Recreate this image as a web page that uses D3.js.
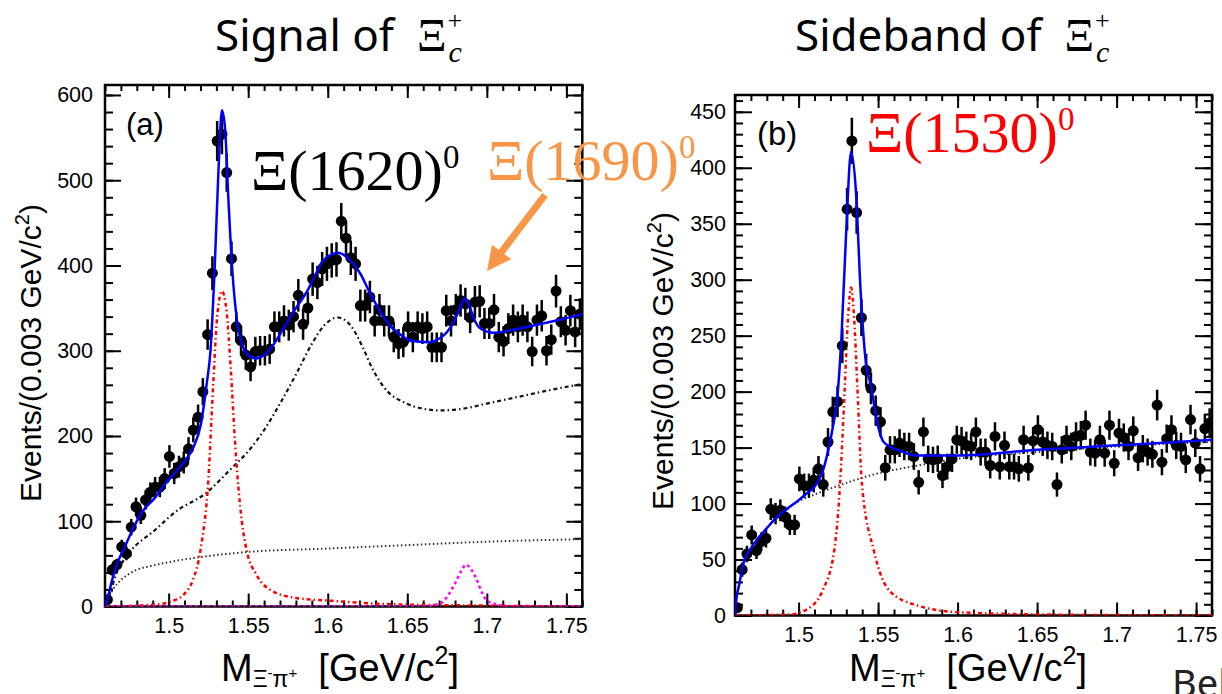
<!DOCTYPE html>
<html lang="en">
<head>
<meta charset="UTF-8">
<title>Xi- pi+ invariant mass: signal and sideband</title>
<script src="https://d3js.org/d3.v7.min.js"></script>
<style>
  body { margin: 0; background: #fff; }
  svg { display: block; }
  .tick text { font-family: "Liberation Sans", Arial, sans-serif; font-size: 21.5px; fill: #000; }
  .axis-title { font-family: "Liberation Sans", Arial, sans-serif; fill: #000; }
  .slide-title { font-family: "Noto Sans", sans-serif; font-size: 44px; fill: #000; }
  .state { font-family: "Liberation Serif", serif; font-size: 58px; }
</style>
</head>
<body>
<script>
// ---- data ----
var massRange = [1.46, 1.76];
var xTickLabels = [1.5, 1.55, 1.6, 1.65, 1.7, 1.75];
var yTickLabelsA = [0, 100, 200, 300, 400, 500, 600];
var yTickLabelsB = [0, 50, 100, 150, 200, 250, 300, 350, 400, 450];

// bin centres (GeV/c^2), 0.003 wide
var massBins = [1.4615, 1.4645, 1.4675, 1.4705, 1.4735, 1.4765, 1.4795, 1.4825, 1.4855, 1.4885,
  1.4915, 1.4945, 1.4975, 1.5005, 1.5035, 1.5065, 1.5095, 1.5125, 1.5155, 1.5185,
  1.5215, 1.5245, 1.5275, 1.5305, 1.5335, 1.5365, 1.5395, 1.5425, 1.5455, 1.5485,
  1.5515, 1.5545, 1.5575, 1.5605, 1.5635, 1.5665, 1.5695, 1.5725, 1.5755, 1.5785,
  1.5815, 1.5845, 1.5875, 1.5905, 1.5935, 1.5965, 1.5995, 1.6025, 1.6055, 1.6085,
  1.6115, 1.6145, 1.6175, 1.6205, 1.6235, 1.6265, 1.6295, 1.6325, 1.6355, 1.6385,
  1.6415, 1.6445, 1.6475, 1.6505, 1.6535, 1.6565, 1.6595, 1.6625, 1.6655, 1.6685,
  1.6715, 1.6745, 1.6775, 1.6805, 1.6835, 1.6865, 1.6895, 1.6925, 1.6955, 1.6985,
  1.7015, 1.7045, 1.7075, 1.7105, 1.7135, 1.7165, 1.7195, 1.7225, 1.7255, 1.7285,
  1.7315, 1.7345, 1.7375, 1.7405, 1.7435, 1.7465, 1.7495, 1.7525, 1.7555, 1.7585];

// (a) signal region
var eventsA = [8, 43, 49, 70, 62, 93, 117, 107, 125, 134,
  140, 140, 150, 176, 156, 164, 169, 185, 207, 222,
  252, 319, 391, 546, 554, 509, 408, 328, 312, 295,
  281, 299, 300, 300, 302, 328, 328, 335, 330, 340,
  365, 331, 350, 384, 380, 396, 402, 406, 407, 452,
  432, 409, 402, 353, 353, 363, 335, 348, 335, 335,
  316, 308, 310, 328, 316, 328, 326, 328, 304, 304,
  304, 347, 335, 348, 359, 355, 339, 357, 358, 332,
  332, 348, 316, 311, 326, 336, 328, 336, 328, 299,
  336, 341, 300, 313, 370, 334, 324, 347, 322, 343];

// (b) sideband region
var eventsB = [7, 41, 55, 72, 58, 66, 69, 95, 91, 94,
  88, 81, 81, 122, 116, 116, 121, 131, 117, 155,
  182, 191, 241, 363, 424, 360, 266, 219, 203, 183,
  173, 132, 148, 148, 154, 151, 151, 142, 119, 164,
  140, 139, 140, 125, 133, 140, 157, 156, 152, 151,
  164, 146, 146, 134, 160, 133, 152, 133, 133, 131,
  157, 132, 156, 166, 155, 152, 151, 117, 148, 157,
  151, 160, 161, 170, 146, 145, 157, 145, 170, 136,
  163, 159, 151, 165, 141, 149, 146, 144, 188, 137,
  158, 166, 152, 151, 139, 175, 154, 131, 167, 172];

// fit curves, [mass, events]
var fitTotalA = [[1.46, 0], [1.4615, 8], [1.463, 20], [1.4655, 38], [1.468, 52], [1.472, 68], [1.4773, 90],
  [1.483, 110], [1.4916, 128], [1.4975, 143], [1.5036, 156], [1.51, 170], [1.5156, 187], [1.5203, 214],
  [1.5239, 261], [1.5263, 300], [1.529, 400], [1.5315, 520], [1.5335, 582], [1.5355, 560], [1.5375, 480],
  [1.54, 395], [1.543, 335], [1.546, 308], [1.55, 295], [1.5548, 291], [1.56, 295], [1.565, 305],
  [1.5727, 328], [1.58, 350], [1.5871, 370], [1.5925, 390], [1.5967, 405], [1.6015, 412], [1.6063, 415],
  [1.612, 410], [1.616, 402], [1.6206, 390], [1.6254, 372], [1.6302, 355], [1.635, 340], [1.6398, 328],
  [1.645, 320], [1.6494, 314], [1.655, 311], [1.6637, 310], [1.67, 314], [1.675, 322], [1.68, 337],
  [1.6835, 352], [1.686, 361.5], [1.6885, 355], [1.692, 337], [1.696, 326], [1.7044, 321], [1.715, 324],
  [1.73, 330], [1.745, 336], [1.76, 343]];
var fitXi1620A = [[1.46, 0], [1.463, 15], [1.467, 38], [1.4749, 62], [1.4916, 90], [1.505, 112],
  [1.5227, 132], [1.54, 163], [1.55, 182], [1.56, 207], [1.57, 238], [1.58, 272], [1.59, 308],
  [1.597, 328], [1.6063, 339], [1.615, 328], [1.622, 304], [1.6278, 280], [1.635, 258], [1.6495, 238],
  [1.66, 232], [1.671, 230], [1.685, 232], [1.7, 238], [1.72, 246], [1.74, 254], [1.76, 261]];
var fitBkgA = [[1.46, 0], [1.4615, 8], [1.465, 20], [1.47, 31], [1.475, 38], [1.48, 43], [1.49, 48],
  [1.5, 52], [1.52, 58], [1.55, 64], [1.6, 68], [1.65, 72], [1.7, 76], [1.76, 79]];
var fitXi1530A = [[1.46, 0], [1.49, 2], [1.5, 5], [1.51, 15], [1.515, 30], [1.52, 66], [1.525, 150],
  [1.528, 260], [1.5305, 340], [1.5335, 370], [1.5365, 345], [1.539, 280], [1.542, 185], [1.546, 100],
  [1.549, 66], [1.555, 38], [1.5634, 20], [1.58, 10], [1.6, 7], [1.635, 3], [1.7, 1], [1.76, 0]];
var fitXi1690A = [[1.46, 0], [1.66, 0], [1.668, 2], [1.672, 5], [1.676, 14], [1.68, 27], [1.684, 42],
  [1.687, 49], [1.69, 44], [1.694, 30], [1.697, 16], [1.7, 7], [1.705, 3], [1.71, 1], [1.72, 0], [1.76, 0]];

var fitTotalB = [[1.46, 0], [1.4605, 10], [1.4627, 28], [1.4652, 46], [1.47, 60], [1.4751, 70], [1.48, 78],
  [1.485, 86], [1.4925, 95], [1.5, 103], [1.505, 109], [1.51, 115], [1.515, 128], [1.5187, 148],
  [1.522, 172], [1.524, 190], [1.527, 250], [1.53, 345], [1.533, 414], [1.536, 380], [1.539, 290],
  [1.542, 230], [1.5455, 205], [1.55, 169], [1.5535, 155], [1.5622, 148], [1.5746, 143], [1.6, 143],
  [1.65, 148], [1.7, 152], [1.7488, 156], [1.76, 157]];
var fitBkgB = [[1.46, 0], [1.4605, 10], [1.4627, 28], [1.4652, 46], [1.47, 60], [1.4751, 70], [1.48, 78],
  [1.485, 86], [1.4925, 95], [1.5, 102], [1.51, 108], [1.525, 116], [1.55, 127], [1.575, 134],
  [1.6, 140], [1.65, 146], [1.7, 151], [1.76, 155]];
var fitXi1530B = [[1.46, 0], [1.495, 1], [1.5075, 7.5], [1.515, 22], [1.5224, 58], [1.5261, 118],
  [1.529, 203], [1.531, 264], [1.533, 293], [1.535, 264], [1.537, 203], [1.5398, 118], [1.5473, 58],
  [1.5572, 22], [1.5746, 9], [1.6, 3], [1.65, 1], [1.76, 0]];

// ---- drawing ----
var W = 1222, H = 694;
var svg = d3.select("body").append("svg").attr("width", W).attr("height", H);

function drawPanel(p) {
  var x = d3.scaleLinear().domain(massRange).range([p.left, p.right]);
  var y = d3.scaleLinear().domain([0, p.yTop]).range([p.bottom, p.top]);
  var g = svg.append("g");

  svg.append("clipPath").attr("id", "clip-" + p.name)
    .append("rect")
    .attr("x", p.left).attr("y", p.top)
    .attr("width", p.right - p.left).attr("height", p.bottom - p.top);

  var minorX = x.ticks(30);
  var minorY = d3.range(0, p.yTop, p.yMinor);

  function styleAxis(sel) {
    sel.select(".domain").remove();
    sel.selectAll(".tick line").attr("stroke", "#000").attr("stroke-width", 2);
    sel.attr("font-family", null).attr("font-size", null);
  }

  // minor ticks on all four sides
  g.append("g").attr("transform", "translate(0," + p.bottom + ")")
    .call(d3.axisBottom(x).tickValues(minorX).tickSizeInner(-6).tickSizeOuter(0).tickFormat(""))
    .call(styleAxis);
  g.append("g").attr("transform", "translate(0," + p.top + ")")
    .call(d3.axisTop(x).tickValues(minorX).tickSizeInner(-6).tickSizeOuter(0).tickFormat(""))
    .call(styleAxis);
  g.append("g").attr("transform", "translate(" + p.left + ",0)")
    .call(d3.axisLeft(y).tickValues(minorY).tickSizeInner(-8).tickSizeOuter(0).tickFormat(""))
    .call(styleAxis);
  g.append("g").attr("transform", "translate(" + p.right + ",0)")
    .call(d3.axisRight(y).tickValues(minorY).tickSizeInner(-8).tickSizeOuter(0).tickFormat(""))
    .call(styleAxis);

  // major ticks
  g.append("g").attr("transform", "translate(0," + p.bottom + ")")
    .call(d3.axisBottom(x).tickValues(xTickLabels).tickSizeInner(-13).tickSizeOuter(0)
      .tickPadding(11).tickFormat(function (d) { return String(d); }))
    .call(styleAxis);
  g.append("g").attr("transform", "translate(0," + p.top + ")")
    .call(d3.axisTop(x).tickValues(xTickLabels).tickSizeInner(-13).tickSizeOuter(0).tickFormat(""))
    .call(styleAxis);
  g.append("g").attr("transform", "translate(" + p.left + ",0)")
    .call(d3.axisLeft(y).tickValues(p.yTicks).tickSizeInner(-p.yMajorLen).tickSizeOuter(0)
      .tickPadding(p.yPad).tickFormat(function (d) { return String(d); }))
    .call(styleAxis);
  g.append("g").attr("transform", "translate(" + p.right + ",0)")
    .call(d3.axisRight(y).tickValues(p.yTicks).tickSizeInner(-p.yMajorLen).tickSizeOuter(0).tickFormat(""))
    .call(styleAxis);

  // frame
  g.append("rect")
    .attr("x", p.left).attr("y", p.top)
    .attr("width", p.right - p.left).attr("height", p.bottom - p.top)
    .attr("fill", "none").attr("stroke", "#000").attr("stroke-width", 2.5);

  var line = d3.line()
    .x(function (d) { return x(d[0]); })
    .y(function (d) { return y(d[1]); })
    .curve(d3.curveMonotoneX);

  var plot = g.append("g").attr("clip-path", "url(#clip-" + p.name + ")");

  p.curves.forEach(function (c) {
    plot.append("path")
      .datum(c.data)
      .attr("d", line)
      .attr("fill", "none")
      .attr("stroke", c.color)
      .attr("stroke-width", c.width)
      .attr("stroke-dasharray", c.dash || null);
  });

  // data points with poisson errors
  var pts = massBins.map(function (m, i) { return [m, p.events[i]]; });
  plot.selectAll(".err")
    .data(pts)
    .enter().append("line")
    .attr("class", "err")
    .attr("x1", function (d) { return x(d[0]); })
    .attr("x2", function (d) { return x(d[0]); })
    .attr("y1", function (d) { return y(d[1] - Math.sqrt(d[1])); })
    .attr("y2", function (d) { return y(d[1] + Math.sqrt(d[1])); })
    .attr("stroke", "#000").attr("stroke-width", 2.5);
  plot.selectAll(".pt")
    .data(pts)
    .enter().append("circle")
    .attr("class", "pt")
    .attr("cx", function (d) { return x(d[0]); })
    .attr("cy", function (d) { return y(d[1]); })
    .attr("r", 5.5)
    .attr("fill", "#000");

  // blue total fit drawn on top
  plot.append("path")
    .datum(p.total)
    .attr("d", line)
    .attr("fill", "none")
    .attr("stroke", "#0000ff")
    .attr("stroke-width", 2.5);

  // panel tag
  svg.append("text")
    .attr("class", "axis-title")
    .attr("x", p.tagX).attr("y", p.tagY)
    .attr("font-size", p.tagSize)
    .text(p.tag);

  // y title
  var yt = svg.append("text")
    .attr("class", "axis-title")
    .attr("font-size", 30)
    .attr("text-anchor", "middle")
    .attr("transform", "translate(" + p.yTitleX + "," + p.yTitleY + ") rotate(-90)");
  yt.append("tspan").text("Events/(0.003 GeV/c");
  yt.append("tspan").attr("font-size", 20).attr("dy", -12).text("2");
  yt.append("tspan").attr("dy", 12).text(")");

  // x title
  var xt = svg.append("text")
    .attr("class", "axis-title")
    .attr("x", p.xTitleX).attr("y", p.xTitleY)
    .attr("font-size", 38);
  xt.append("tspan").text("M");
  xt.append("tspan").attr("font-size", 23).attr("dy", 6).text("\u039E");
  xt.append("tspan").attr("font-size", 15).attr("dy", -9).text("-");
  xt.append("tspan").attr("font-size", 23).attr("dy", 9).text("\u03C0");
  xt.append("tspan").attr("font-size", 15).attr("dy", -9).text("+");
  xt.append("tspan").attr("dy", 3).text("\u00A0\u00A0[GeV/c");
  xt.append("tspan").attr("font-size", 25).attr("dy", -17).text("2");
  xt.append("tspan").attr("dy", 17).text("]");
}

drawPanel({
  name: "a", left: 105, right: 582.3, top: 85, bottom: 606.5, yTop: 611.7,
  yTicks: yTickLabelsA, yMinor: 20, yMajorLen: 16, yPad: 12,
  events: eventsA, total: fitTotalA,
  curves: [
    { data: fitBkgA, color: "#333", width: 2, dash: "1.5,2.5" },
    { data: fitXi1620A, color: "#111", width: 2.2, dash: "4,3,1.5,3" },
    { data: fitXi1530A, color: "#ff0000", width: 2.5, dash: "4,3,1.5,3" },
    { data: fitXi1690A, color: "#ff00ff", width: 2.5, dash: "3,3" }
  ],
  tag: "(a)", tagX: 126, tagY: 135, tagSize: 31,
  yTitleX: 41, yTitleY: 353, xTitleX: 221, xTitleY: 681
});

drawPanel({
  name: "b", left: 735, right: 1212, top: 95, bottom: 615.5, yTop: 465,
  yTicks: yTickLabelsB, yMinor: 10, yMajorLen: 17, yPad: 9,
  events: eventsB, total: fitTotalB,
  curves: [
    { data: fitBkgB, color: "#333", width: 2, dash: "1.5,2.5" },
    { data: fitXi1530B, color: "#ff0000", width: 2.5, dash: "4,3,1.5,3" }
  ],
  tag: "(b)", tagX: 757, tagY: 145, tagSize: 33,
  yTitleX: 673, yTitleY: 361, xTitleX: 849, xTitleY: 681
});

// resonance labels
function stateLabel(name, x, base, color) {
  var t = svg.append("text").attr("class", "state")
    .attr("x", x).attr("y", base).attr("fill", color);
  t.append("tspan").text(name);
  t.append("tspan").attr("font-size", 33).attr("dy", -22).text("0");
}
stateLabel("\u039E(1620)", 251, 190, "#000");
stateLabel("\u039E(1690)", 487, 180, "#f79646");
stateLabel("\u039E(1530)", 866, 152, "#ff0000");

// orange arrow pointing at the 1690 bump
var ax0 = 545, ay0 = 195, ax1 = 487, ay1 = 271;
var alen = Math.hypot(ax1 - ax0, ay1 - ay0);
var aang = Math.atan2(ay1 - ay0, ax1 - ax0) * 180 / Math.PI;
var arrow = svg.append("g")
  .attr("transform", "translate(" + ax0 + "," + ay0 + ") rotate(" + aang + ")");
arrow.append("rect").attr("x", 0).attr("y", -3.5).attr("width", alen - 20).attr("height", 7)
  .attr("fill", "#f79646");
arrow.append("path")
  .attr("d", "M" + (alen - 24) + ",-12 L" + alen + ",0 L" + (alen - 24) + ",12 Z")
  .attr("fill", "#f79646");

// slide titles: Xi with stacked subscript c and superscript +
function slideTitle(label, x, base) {
  var t = svg.append("text").attr("class", "slide-title").attr("x", x).attr("y", base);
  t.append("tspan").text(label + "\u00A0\u00A0");
  t.append("tspan").attr("font-family", "Liberation Serif, serif").attr("font-size", 46).text("\u039E");
  var w = t.node().getComputedTextLength();
  svg.append("text").attr("x", x + w + 2).attr("y", base + 11)
    .attr("font-family", "Liberation Serif, serif").attr("font-style", "italic")
    .attr("font-size", 30).text("c");
  svg.append("text").attr("x", x + w + 1).attr("y", base - 22)
    .attr("font-family", "Liberation Serif, serif").attr("font-size", 26).text("+");
}
slideTitle("Signal of", 215, 51);
slideTitle("Sideband of", 795, 51);

// cut-off footer text
svg.append("text").attr("x", 1172).attr("y", 697)
  .attr("font-family", "Noto Sans, sans-serif").attr("font-size", 38).attr("fill", "#222")
  .text("Belle");
</script>
</body>
</html>
